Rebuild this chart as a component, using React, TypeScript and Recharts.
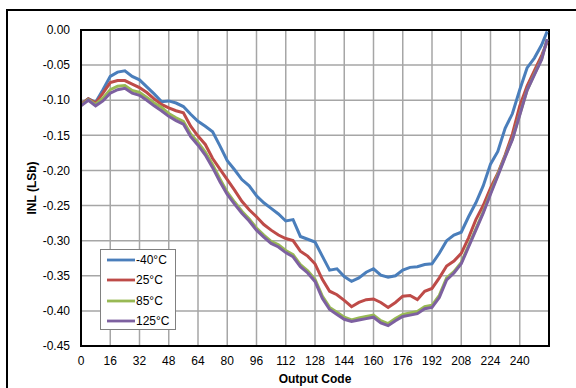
import React from 'react';
import { LineChart, Line, XAxis, YAxis, CartesianGrid, Legend, ReferenceArea } from 'recharts';

const codes = [0, 4, 8, 12, 16, 20, 24, 28, 32, 36, 40, 44, 48, 52, 56, 60, 64, 68, 72, 76, 80, 84, 88, 92, 96, 100, 104, 108, 112, 116, 120, 124, 128, 132, 136, 140, 144, 148, 152, 156, 160, 164, 168, 172, 176, 180, 184, 188, 192, 196, 200, 204, 208, 212, 216, 220, 224, 228, 232, 236, 240, 244, 248, 252, 255];

const inlM40 = [-0.106, -0.098, -0.103, -0.085, -0.066, -0.060, -0.058, -0.066, -0.071, -0.081, -0.091, -0.102, -0.101, -0.104, -0.109, -0.120, -0.130, -0.137, -0.145, -0.165, -0.186, -0.199, -0.213, -0.222, -0.236, -0.246, -0.254, -0.262, -0.272, -0.270, -0.294, -0.298, -0.302, -0.322, -0.342, -0.340, -0.351, -0.358, -0.353, -0.345, -0.340, -0.349, -0.352, -0.350, -0.342, -0.338, -0.337, -0.334, -0.333, -0.318, -0.300, -0.292, -0.288, -0.266, -0.246, -0.222, -0.191, -0.173, -0.140, -0.119, -0.085, -0.054, -0.040, -0.021, -0.002];

const inl25 = [-0.106, -0.098, -0.104, -0.090, -0.075, -0.072, -0.072, -0.077, -0.082, -0.089, -0.098, -0.106, -0.111, -0.115, -0.118, -0.137, -0.151, -0.163, -0.183, -0.198, -0.213, -0.228, -0.244, -0.256, -0.266, -0.277, -0.285, -0.292, -0.297, -0.300, -0.315, -0.322, -0.333, -0.355, -0.372, -0.377, -0.385, -0.394, -0.388, -0.384, -0.383, -0.388, -0.395, -0.388, -0.379, -0.378, -0.384, -0.372, -0.368, -0.353, -0.336, -0.329, -0.318, -0.296, -0.270, -0.250, -0.225, -0.204, -0.178, -0.148, -0.108, -0.080, -0.058, -0.036, -0.017];

const inl85 = [-0.107, -0.099, -0.106, -0.097, -0.085, -0.080, -0.079, -0.086, -0.089, -0.096, -0.104, -0.110, -0.119, -0.125, -0.130, -0.148, -0.160, -0.174, -0.192, -0.212, -0.231, -0.245, -0.258, -0.269, -0.282, -0.292, -0.301, -0.306, -0.314, -0.320, -0.334, -0.343, -0.355, -0.379, -0.395, -0.402, -0.409, -0.413, -0.410, -0.408, -0.406, -0.414, -0.418, -0.411, -0.405, -0.403, -0.401, -0.394, -0.392, -0.378, -0.353, -0.344, -0.331, -0.307, -0.283, -0.259, -0.232, -0.206, -0.180, -0.155, -0.120, -0.086, -0.063, -0.041, -0.013];

const inl125 = [-0.108, -0.100, -0.108, -0.101, -0.090, -0.085, -0.083, -0.090, -0.093, -0.100, -0.108, -0.115, -0.123, -0.129, -0.134, -0.152, -0.164, -0.178, -0.196, -0.216, -0.234, -0.248, -0.261, -0.272, -0.285, -0.295, -0.304, -0.309, -0.317, -0.323, -0.337, -0.346, -0.358, -0.382, -0.398, -0.405, -0.412, -0.415, -0.413, -0.411, -0.409, -0.417, -0.421, -0.414, -0.408, -0.406, -0.404, -0.397, -0.395, -0.381, -0.356, -0.346, -0.333, -0.309, -0.285, -0.261, -0.234, -0.208, -0.181, -0.156, -0.121, -0.086, -0.064, -0.042, -0.013];

const xTicks = [0, 16, 32, 48, 64, 80, 96, 112, 128, 144, 160, 176, 192, 208, 224, 240];
const yTicks = [0, -0.05, -0.1, -0.15, -0.2, -0.25, -0.3, -0.35, -0.4, -0.45];

const series = [
  { key: 'm40', name: '-40°C', color: '#4A7EBB', values: inlM40 },
  { key: 't25', name: '25°C', color: '#BE4B48', values: inl25 },
  { key: 't85', name: '85°C', color: '#98B954', values: inl85 },
  { key: 't125', name: '125°C', color: '#7D60A0', values: inl125 },
];

const data = codes.map((c, i) => {
  const row: any = { code: c };
  series.forEach((s) => { row[s.key] = s.values[i]; });
  return row;
});

const FONT = '"Liberation Sans", Arial, sans-serif';

const LegendBox = () => (
  <div style={{ width: 76, height: 81, boxSizing: 'border-box', border: '1px solid #808080', background: '#fff', fontFamily: FONT, fontSize: 12, color: '#000' }}>
    {series.map((s) => (
      <div key={s.key} style={{ height: 20.3, display: 'flex', alignItems: 'center', position: 'relative' }}>
        <svg width={28} height={6} style={{ marginLeft: 6, display: 'block' }}>
          <line x1={0} y1={3} x2={28} y2={3} stroke={s.color} strokeWidth={2.8} />
        </svg>
        <span style={{ marginLeft: 1, lineHeight: '12px' }}>{s.name}</span>
      </div>
    ))}
  </div>
);

export default function App() {
  return (
    <div style={{ position: 'fixed', left: 0, top: 0, width: 576, height: 388, overflow: 'hidden', background: '#fff' }}>
      <div style={{ position: 'absolute', left: 6, top: 9, width: 620, height: 420, border: '2px solid #000' }} />
      <div style={{ position: 'absolute', left: 0, top: 0 }}>
        <LineChart width={576} height={388} data={data} margin={{ top: 30, right: 27, left: 0, bottom: 0 }} style={{ fontFamily: FONT }}>
          <CartesianGrid stroke="#a6a6a6" strokeWidth={1.5} />
          <XAxis
            dataKey="code"
            type="number"
            domain={[0, 256]}
            ticks={xTicks}
            interval={0}
            height={42}
            tickLine={false}
            tickSize={0}
            tickMargin={10}
            axisLine={{ stroke: '#000', strokeWidth: 2 }}
            tick={{ fill: '#000', fontSize: 12, fontFamily: FONT }}
            label={{ value: 'Output Code', position: 'insideBottom', offset: 5, fill: '#000', fontSize: 12, fontWeight: 'bold', fontFamily: FONT }}
          />
          <YAxis
            type="number"
            domain={[-0.45, 0]}
            ticks={yTicks}
            interval={0}
            width={81}
            tickLine={false}
            tickSize={0}
            tickMargin={11}
            axisLine={{ stroke: '#000', strokeWidth: 2 }}
            tickFormatter={(v: number) => v.toFixed(2)}
            tick={{ fill: '#000', fontSize: 12, fontFamily: FONT }}
            label={{ value: 'INL (LSb)', angle: -90, position: 'center', dx: -9, fill: '#000', fontSize: 12, fontWeight: 'bold', fontFamily: FONT }}
          />
          <ReferenceArea x1={0} x2={256} y1={-0.45} y2={0} fill="none" stroke="#000" strokeWidth={2} ifOverflow="visible" />
          {series.map((s) => (
            <Line key={s.key} type="linear" dataKey={s.key} name={s.name} stroke={s.color} strokeWidth={3} dot={false} isAnimationActive={false} />
          ))}
          <Legend
            layout="horizontal"
            verticalAlign="middle"
            align="center"
            content={() => <LegendBox />}
            wrapperStyle={{ left: 100, top: 249, width: 76, height: 81 }}
          />
        </LineChart>
      </div>
    </div>
  );
}
